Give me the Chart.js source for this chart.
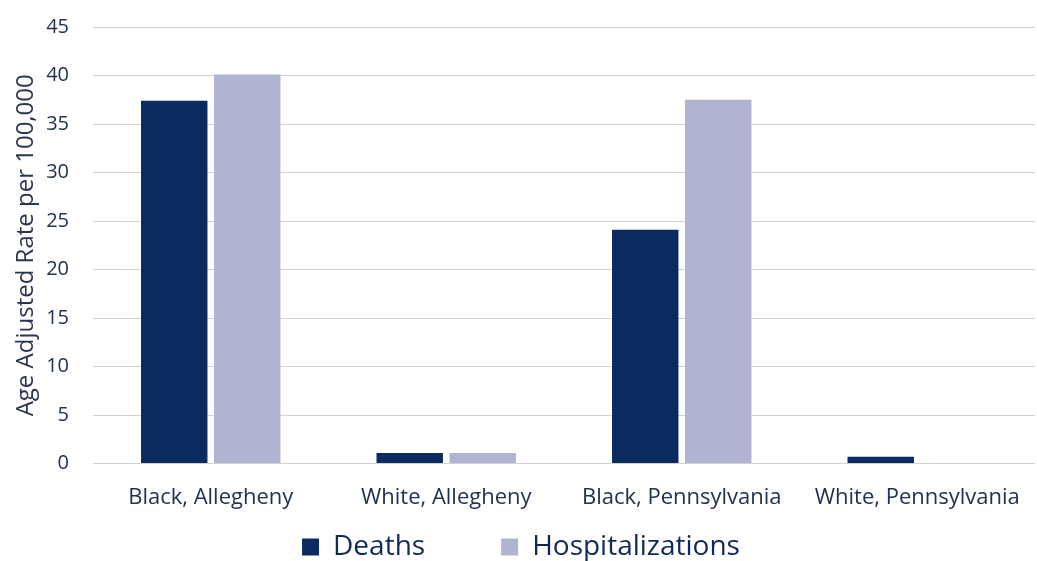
<!DOCTYPE html>
<html>
<head>
  <meta charset="utf-8">
  <title>Age Adjusted Rate per 100,000</title>
  <script src="https://cdn.jsdelivr.net/npm/chart.js@4.4.1/dist/chart.umd.min.js"></script>
  <style>
    html, body { margin: 0; padding: 0; background: #fff; }
    .chart-box { position: relative; width: 1037px; height: 561px; }
  </style>
</head>
<body>
<div class="chart-box">
  <canvas id="myChart"></canvas>
</div>

<script>
  // groups along the x axis
  var categories = ['Black, Allegheny', 'White, Allegheny', 'Black, Pennsylvania', 'White, Pennsylvania'];
  // rates per 100,000
  var deaths = [37.4, 1.1, 24.1, 0.7];
  var hospitalizations = [40.1, 1.1, 37.5, 0];
  var yTicks = [0, 5, 10, 15, 20, 25, 30, 35, 40, 45];

  var fontFace = "'Open Sans', 'Liberation Sans', sans-serif";
  var legendGapAbove = 9;

  // legend labels.padding sets the wide gap between items, but chart.js uses the
  // same value above the row too; trim that part off so the row sits close to the axis
  var tightLegend = {
    id: 'tightLegend',
    afterInit: function(chart) {
      var legend = chart.legend;
      var fit = legend.fit;
      legend.fit = function() {
        fit.call(this);
        this.height -= this.options.labels.padding + 10 - legendGapAbove;
      };
    },
    afterLayout: function(chart) {
      var legend = chart.legend;
      legend.top -= legend.options.labels.padding - legendGapAbove;
    }
  };

  var ctx = document.getElementById('myChart').getContext('2d');
  var myChart = new Chart(ctx, {
    type: 'bar',
    data: {
      labels: categories,
      datasets: [{
        label: 'Deaths',
        data: deaths,
        backgroundColor: '#0b2a5f',
        borderWidth: 0
      }, {
        label: 'Hospitalizations',
        data: hospitalizations,
        backgroundColor: '#b0b4d2',
        borderWidth: 0
      }]
    },
    plugins: [tightLegend],
    options: {
      responsive: true,
      maintainAspectRatio: false,
      animation: false,
      categoryPercentage: 0.62,
      barPercentage: 0.91,
      layout: { padding: { top: 27, right: 2, left: 7, bottom: 0 } },
      plugins: {
        tooltip: { enabled: false },
        legend: {
          position: 'bottom',
          labels: {
            boxWidth: 17,
            boxHeight: 17,
            padding: 76,
            color: '#0f2a5a',
            font: { family: fontFace, size: 28 }
          }
        }
      },
      scales: {
        x: {
          grid: { display: false },
          border: { display: false },
          ticks: {
            color: '#24324f',
            padding: 13,
            font: { family: fontFace, size: 22 }
          }
        },
        y: {
          min: 0,
          max: 45,
          afterBuildTicks: function(axis) {
            axis.ticks = yTicks.map(function(v) { return { value: v }; });
          },
          // keep the title snug against the tick labels, and don't let the
          // tick padding push the top gridline down
          afterFit: function(axis) {
            axis.width = 86;
            axis.paddingTop = 12;
          },
          grid: { color: '#d2d2d2', lineWidth: 1, drawTicks: false },
          border: { display: false },
          ticks: {
            color: '#24324f',
            padding: 24,
            font: { family: fontFace, size: 20 }
          },
          title: {
            display: true,
            text: 'Age Adjusted Rate per 100,000',
            color: '#2a3550',
            padding: 5,
            font: { family: fontFace, size: 24 }
          }
        }
      }
    }
  });
</script>
</body>
</html>
